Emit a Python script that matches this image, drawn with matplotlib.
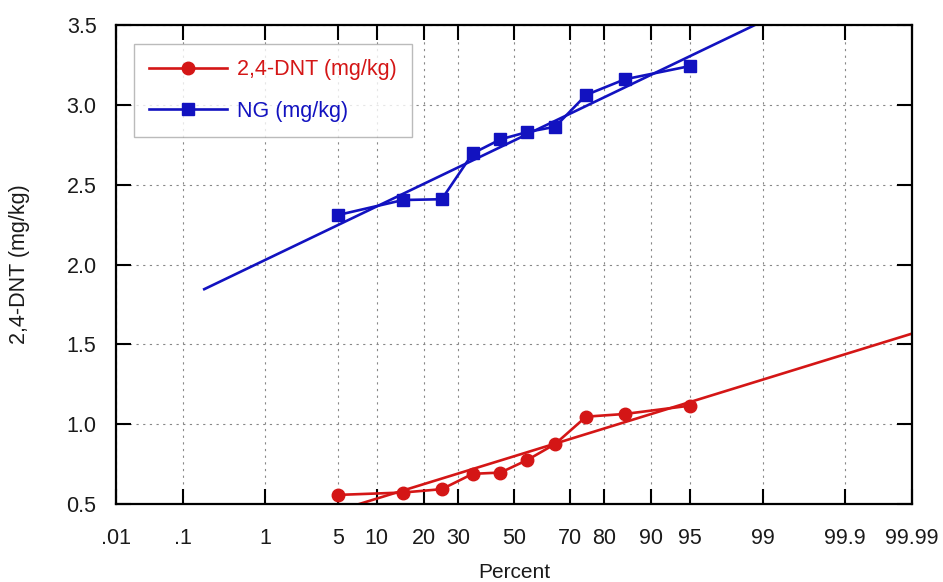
import numpy as np
import matplotlib
matplotlib.use("Agg")
import matplotlib.pyplot as plt
from statistics import NormalDist

plt.rcParams['font.family'] = ['Liberation Sans', 'DejaVu Sans']

# plotting positions (percent) and measured values
percent = [5, 15, 25, 35, 45, 55, 65, 75, 85, 95]
dnt = [0.557, 0.572, 0.593, 0.689, 0.697, 0.776, 0.876, 1.047, 1.064, 1.116]
ng = [2.310, 2.404, 2.409, 2.696, 2.784, 2.830, 2.863, 3.062, 3.160, 3.243]

# span of the fitted lines (percent)
fit_span = [0.19, 99.99]

tick_pct = [0.01, 0.1, 1, 5, 10, 20, 30, 50, 70, 80, 90, 95, 99, 99.9, 99.99]
tick_lbl = ['.01', '.1', '1', '5', '10', '20', '30', '50', '70', '80', '90', '95', '99', '99.9', '99.99']

nd = NormalDist()
_inv = np.vectorize(lambda v: nd.inv_cdf(v / 100.0), otypes=[float])
_cdf = np.vectorize(lambda v: nd.cdf(v) * 100.0, otypes=[float])

def to_z(p):
    p = np.clip(np.asarray(p, dtype=float), 1e-7, 100 - 1e-7)
    return _inv(p)

def from_z(z):
    return _cdf(np.asarray(z, dtype=float))

red = '#d41616'
blue = '#1212c0'

fig = plt.figure(figsize=(9.43, 5.82), dpi=100)
ax = fig.add_axes([0.123, 0.134, 0.844, 0.823])
ax.set_xscale('function', functions=(to_z, from_z))

ax.plot(percent, dnt, color=red, lw=1.9, marker='o', ms=9, label='2,4-DNT (mg/kg)')
ax.plot(percent, ng, color=blue, lw=1.9, marker='s', ms=8.5, label='NG (mg/kg)')

# least-squares lines against normal scores
zs = to_z(percent)
for vals, c in [(dnt, red), (ng, blue)]:
    k, b = np.polyfit(zs, vals, 1)
    ax.plot(fit_span, k * to_z(fit_span) + b, color=c, lw=1.9)

ax.set_xlim(0.01, 99.99)
ax.set_ylim(0.5, 3.5)
ax.set_xticks(tick_pct)
ax.set_xticklabels(tick_lbl)
ax.set_yticks([0.5, 1.0, 1.5, 2.0, 2.5, 3.0, 3.5])
ax.xaxis.set_minor_locator(matplotlib.ticker.NullLocator())

ax.grid(True, color='#888888', ls=(0, (2, 4)), lw=0.8)
ax.tick_params(direction='in', length=11, width=1.5, labelsize=15.5,
               top=True, right=True, labelcolor='#1a1a1a')
ax.tick_params(axis='x', pad=17)
ax.tick_params(axis='y', pad=14)
for s in ax.spines.values():
    s.set_linewidth(1.6)

ax.set_xlabel('Percent', fontsize=15, labelpad=10, color='#1a1a1a')
ax.set_ylabel('2,4-DNT (mg/kg)', fontsize=15.5, labelpad=26, color='#1a1a1a')

leg = ax.legend(loc='upper left', bbox_to_anchor=(0.0226, 0.960), borderaxespad=0,
                fontsize=15.5, fancybox=False, edgecolor='#aaaaaa', handlelength=3.6,
                handletextpad=0.5, borderpad=0.7, labelspacing=0.95)
leg.get_frame().set_linewidth(1.0)
for t, c in zip(leg.get_texts(), [red, blue]):
    t.set_color(c)

fig.savefig('out.png', dpi=100)
